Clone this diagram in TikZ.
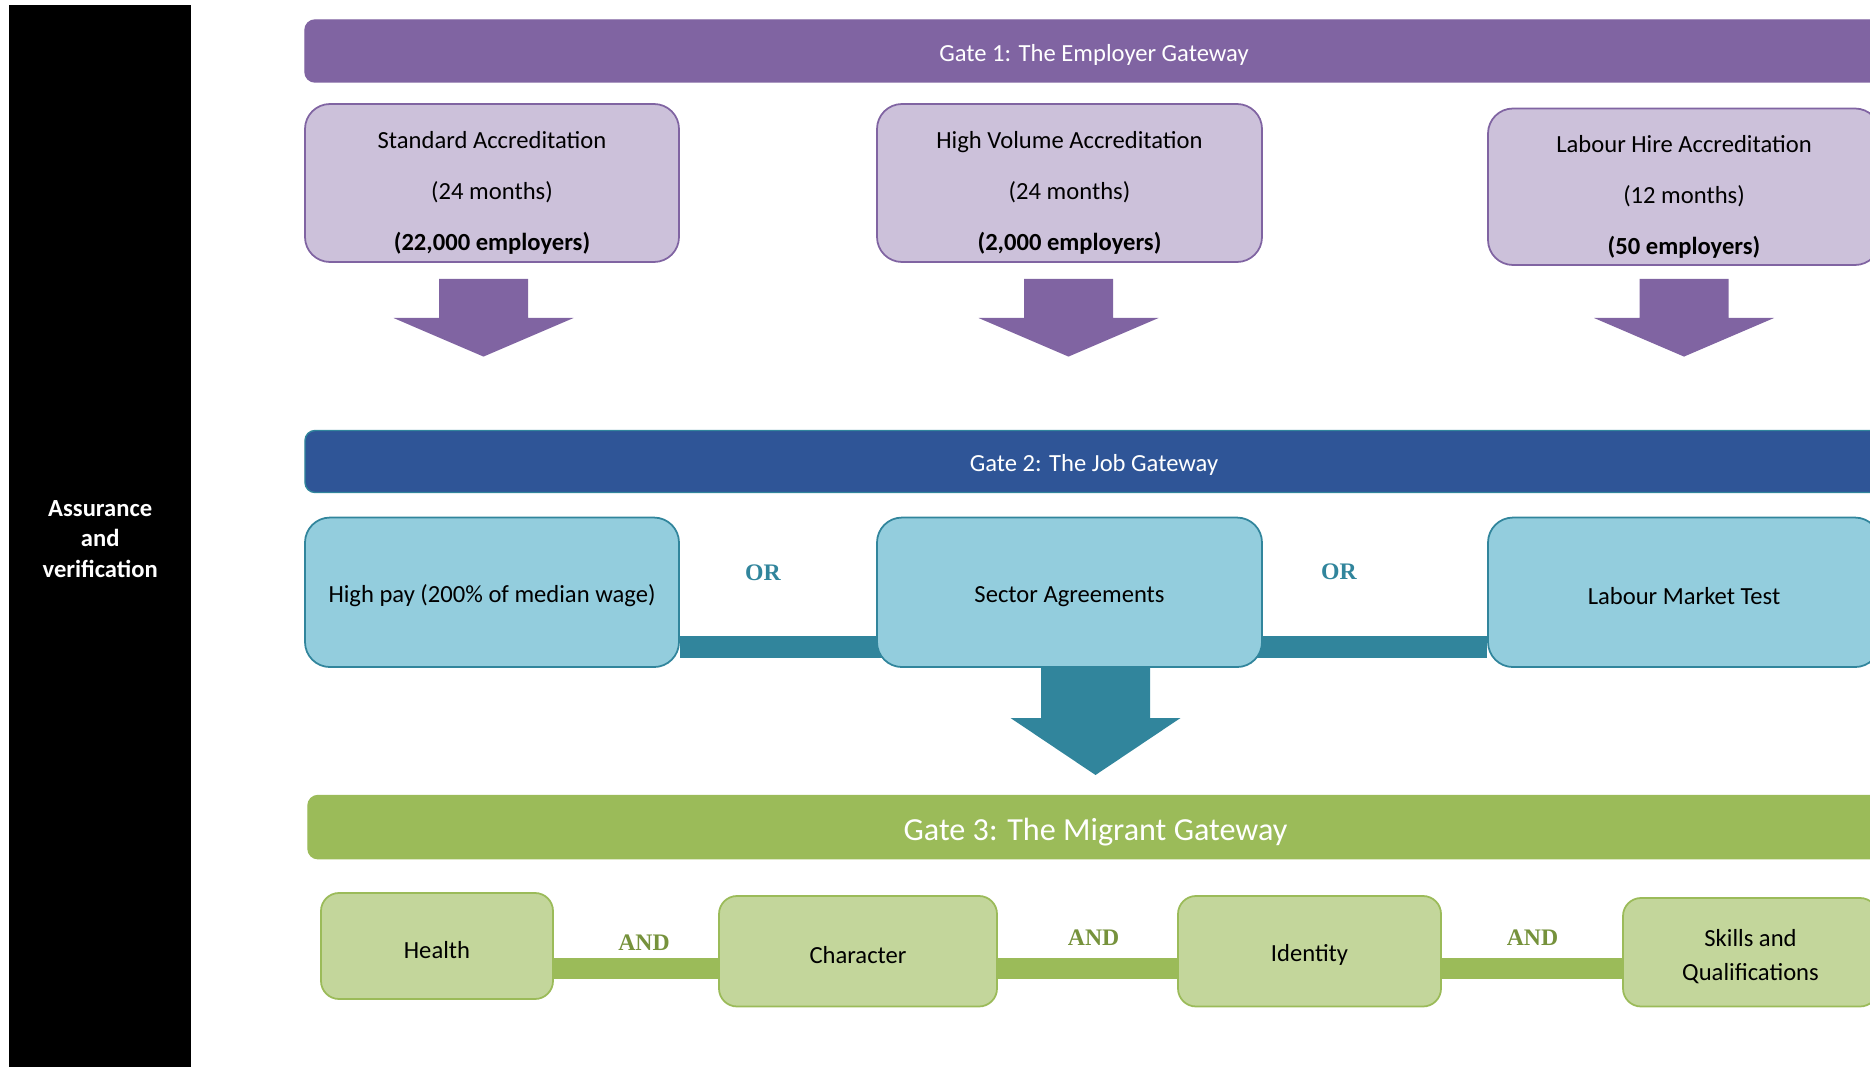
\documentclass[tikz,border=0pt]{standalone}
\usepackage{fontspec}
\setmainfont{Carlito}
\newfontfamily\joinfont{Liberation Serif}
\usetikzlibrary{backgrounds}
\definecolor{gatepurple}{HTML}{8064A2}
\definecolor{lightpurple}{HTML}{CCC1DA}
\definecolor{gateblue}{HTML}{2F5597}
\definecolor{gateteal}{HTML}{31859C}
\definecolor{lightblue}{HTML}{93CDDD}
\definecolor{gategreen}{HTML}{9BBB59}
\definecolor{lightgreen}{HTML}{C3D69B}
\definecolor{andgreen}{HTML}{76923C}
\newcommand{\topstrut}[1]{\rule{0pt}{#1}}
\begin{document}
\begin{tikzpicture}[scale=0.2]
\tikzstyle{every node}+=[inner sep=0pt]
\tikzstyle{gatebar}=[rectangle, rounded corners=2mm, line width=0.8pt, minimum width=31.56cm, minimum height=1.24cm, text=white, font=\fontsize{14}{17}\selectfont, execute at begin node={\topstrut{14pt}}]
\tikzstyle{purplebox}=[rectangle, rounded corners=5mm, line width=1pt, draw=gatepurple, fill=lightpurple, minimum height=3.16cm, align=center, font=\fontsize{14}{29}\selectfont]
\tikzstyle{bluebox}=[rectangle, rounded corners=5mm, line width=1pt, draw=gateteal, fill=lightblue, minimum height=2.99cm, font=\fontsize{14}{17}\selectfont, execute at begin node={\topstrut{14pt}}]
\tikzstyle{greenbox}=[rectangle, rounded corners=3.6mm, line width=1pt, draw=gategreen, fill=lightgreen, align=center, font=\fontsize{14}{19}\selectfont]
\tikzstyle{orlabel}=[text=gateteal, font=\joinfont\bfseries\fontsize{13.5}{15}\selectfont]
\tikzstyle{andlabel}=[text=andgreen, font=\joinfont\bfseries\fontsize{13.5}{15}\selectfont]
\clip (0,0) rectangle (187,-106.7);
\node [fill=black, minimum width=3.63cm, minimum height=21.36cm, text=white, align=center, font=\bfseries\fontsize{14}{17.5}\selectfont] (assure) at (10.02,-53.9) {Assurance\\and\\verification};
\node [gatebar, draw=gatepurple, fill=gatepurple] (gate1) at (109.4,-5.1) {Gate 1: The Employer Gateway};
\node [purplebox, minimum width=7.48cm] (std) at (49.2,-18.3) {\topstrut{21pt}Standard Accreditation\\(24 months)\\\textbf{(22,000 employers)}};
\node [purplebox, minimum width=7.7cm] (hvol) at (106.95,-18.3) {\topstrut{21pt}High Volume Accreditation\\(24 months)\\\textbf{(2,000 employers)}};
\node [purplebox, minimum width=7.84cm, minimum height=3.13cm] (lhire) at (168.4,-18.675) {\topstrut{21pt}Labour Hire Accreditation\\(12 months)\\\textbf{(50 employers)}};
\foreach \c in {48.35,106.85,168.4}
  \fill [gatepurple] (\c-4.45,-27.9) -- (\c+4.45,-27.9) -- (\c+4.45,-31.8) -- (\c+9,-31.8) -- (\c,-35.66) -- (\c-9,-31.8) -- (\c-4.45,-31.8) -- cycle;
\node [gatebar, draw=gateteal, fill=gateblue] (gate2) at (109.4,-46.15) {Gate 2: The Job Gateway};
\node [bluebox, minimum width=7.48cm] (hpay) at (49.2,-59.23) {High pay (200\% of median wage)};
\node [bluebox, minimum width=7.7cm] (sector) at (106.95,-59.23) {Sector Agreements};
\node [bluebox, minimum width=7.84cm] (lmt) at (168.4,-59.23) {Labour Market Test};
\coordinate (orline) at (0,-64.68);
\begin{scope}[on background layer]
\draw [gateteal, line width=0.44cm] (hpay.east |- orline) -- (lmt.west |- orline);
\fill [gateteal] (104.1,-65) -- (115,-65) -- (115,-71.8) -- (118.05,-71.8) -- (109.55,-77.5) -- (101.05,-71.8) -- (104.1,-71.8) -- cycle;
\end{scope}
\node [orlabel] (or1) at (76.3,-57.3) {OR};
\node [orlabel] (or2) at (133.9,-57.2) {OR};
\node [gatebar, draw=gategreen, fill=gategreen, minimum width=31.5cm, minimum height=1.264cm, font=\fontsize{18.3}{21}\selectfont, execute at begin node={\topstrut{18pt}}] (gate3) at (109.55,-82.71) {Gate 3: The Migrant Gateway};
\node [greenbox, minimum width=4.64cm, minimum height=2.12cm] (health) at (43.7,-94.6) {\topstrut{14pt}Health};
\node [greenbox, minimum width=5.56cm, minimum height=2.21cm] (charac) at (85.8,-95.125) {\topstrut{14pt}Character};
\node [greenbox, minimum width=5.26cm, minimum height=2.21cm] (ident) at (130.95,-95.125) {\topstrut{14pt}Identity};
\node [greenbox, minimum width=5.1cm, minimum height=2.17cm] (skills) at (175.05,-95.225) {\topstrut{14.5pt}Skills and\\Qualifications};
\coordinate (andline) at (0,-96.83);
\begin{scope}[on background layer]
\draw [gategreen, line width=0.43cm] (health.east |- andline) -- (skills.west |- andline);
\end{scope}
\node [andlabel] (and1) at (64.4,-94.3) {AND};
\node [andlabel] (and2) at (109.36,-93.8) {AND};
\node [andlabel] (and3) at (153.25,-93.8) {AND};
\end{tikzpicture}
\end{document}
